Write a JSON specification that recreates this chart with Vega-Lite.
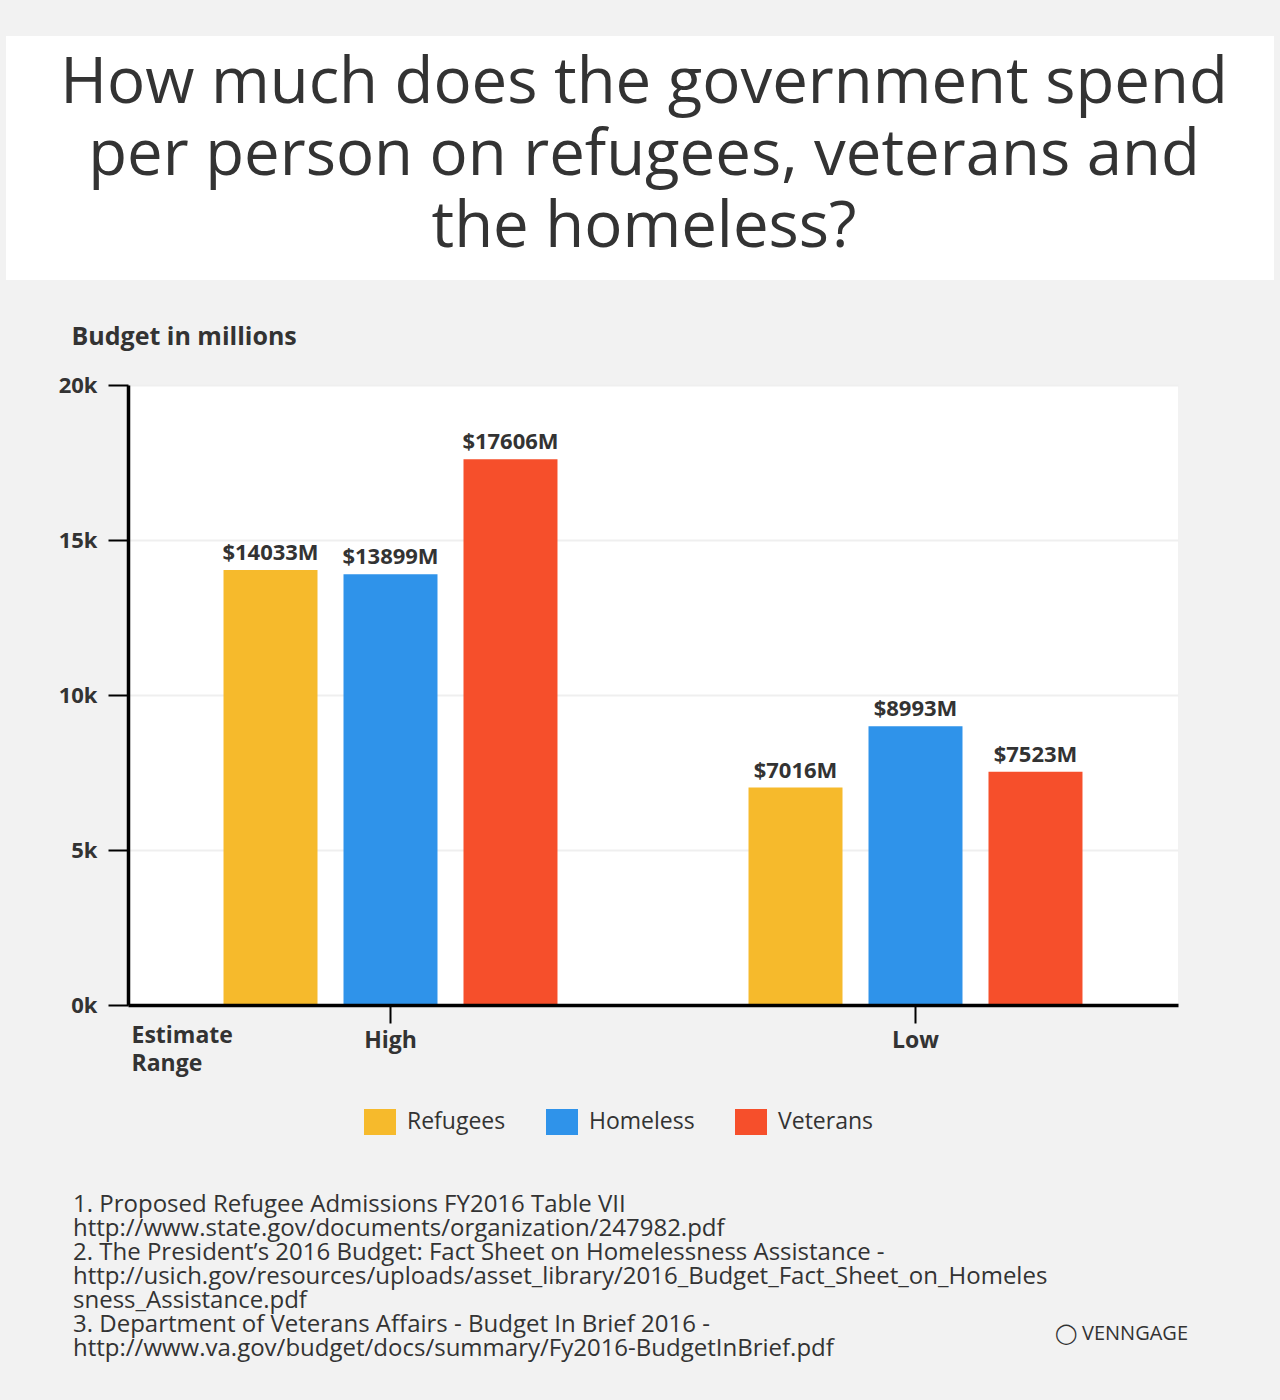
{
  "$schema": "https://vega.github.io/schema/vega-lite/v6.json",
  "background": "#f2f2f2",
  "padding": {"left": 6, "top": 36, "right": 6, "bottom": 46},
  "config": {
    "view": {"stroke": null},
    "font": "Open Sans",
    "locale": {"number": {"decimal": ".", "thousands": ",", "grouping": [3], "currency": ["$", "M"]}}
  },
  "title": {
    "text": "◯  VENNGAGE",
    "orient": "bottom",
    "anchor": "end",
    "dx": -86,
    "offset": -37,
    "font": "Open Sans",
    "fontSize": 20,
    "fontWeight": "normal",
    "color": "#333333"
  },
  "spacing": 44,
  "vconcat": [
    {
      "width": 1268,
      "height": 244,
      "view": {"fill": "white", "stroke": null},
      "data": {"values": [{"heading": "How much does the government spend\nper person on refugees, veterans and\nthe homeless?"}]},
      "mark": {
        "type": "text",
        "font": "Open Sans",
        "fontSize": 63.5,
        "lineHeight": 72,
        "lineBreak": "\n",
        "color": "#333333",
        "align": "center",
        "baseline": "middle",
        "dx": 4,
        "dy": -74
      },
      "encoding": {"text": {"field": "heading", "type": "nominal"}}
    },
    {
      "spacing": 0,
      "hconcat": [
        {
          "width": 52,
          "height": 10,
          "view": {"fill": null, "stroke": null},
          "data": {"values": []},
          "mark": "point"
        },
        {
          "width": 1050,
          "height": 620,
          "view": {"fill": "white", "stroke": null},
          "data": {
            "values": [
              {"range": "High", "group": "Refugees", "value": 14033},
              {"range": "High", "group": "Homeless", "value": 13899},
              {"range": "High", "group": "Veterans", "value": 17606},
              {"range": "Low", "group": "Refugees", "value": 7016},
              {"range": "Low", "group": "Homeless", "value": 8993},
              {"range": "Low", "group": "Veterans", "value": 7523}
            ]
          },
          "title": {
            "text": [
              "1. Proposed Refugee Admissions FY2016 Table VII",
              "http://www.state.gov/documents/organization/247982.pdf",
              "2. The President’s 2016 Budget: Fact Sheet on Homelessness Assistance -",
              "http://usich.gov/resources/uploads/asset_library/2016_Budget_Fact_Sheet_on_Homeles",
              "sness_Assistance.pdf",
              "3. Department of Veterans Affairs - Budget In Brief 2016 -",
              "http://www.va.gov/budget/docs/summary/Fy2016-BudgetInBrief.pdf"
            ],
            "orient": "bottom",
            "anchor": "start",
            "frame": "group",
            "dx": -55,
            "offset": 118,
            "font": "Open Sans",
            "fontSize": 24,
            "fontWeight": "normal",
            "lineHeight": 24,
            "color": "#333333",
            "baseline": "top"
          },
          "encoding": {
            "x": {
              "field": "range",
              "type": "nominal",
              "sort": ["High", "Low"],
              "scale": {"paddingInner": 0, "paddingOuter": 0},
              "axis": {
                "title": ["Estimate", "Range"],
                "titleFont": "Open Sans",
                "titleFontSize": 23,
                "titleFontWeight": "bold",
                "titleColor": "#333333",
                "titleAlign": "left",
                "titleAnchor": "start",
                "titleBaseline": "alphabetic",
                "titleX": 3,
                "titleY": 37,
                "titleLineHeight": 28,
                "labelAngle": 0,
                "labelFont": "Open Sans",
                "labelFontSize": 23,
                "labelFontWeight": "bold",
                "labelColor": "#333333",
                "labelPadding": 6,
                "domainColor": "#000000",
                "domainWidth": 3.5,
                "tickColor": "#000000",
                "tickWidth": 2,
                "tickSize": 18,
                "grid": false,
                "zindex": 1
              }
            },
            "xOffset": {
              "field": "group",
              "type": "nominal",
              "sort": ["Refugees", "Homeless", "Veterans"],
              "scale": {"paddingInner": 0.2167, "paddingOuter": 0.796}
            },
            "y": {
              "field": "value",
              "type": "quantitative",
              "scale": {"domain": [0, 20000]},
              "axis": {
                "values": [0, 5000, 10000, 15000, 20000],
                "labelExpr": "(datum.value / 1000) + 'k'",
                "title": "Budget in millions",
                "titleFont": "Open Sans",
                "titleFontSize": 25,
                "titleFontWeight": "bold",
                "titleColor": "#333333",
                "titleAngle": 0,
                "titleAlign": "left",
                "titleBaseline": "alphabetic",
                "titleX": -57,
                "titleY": -41,
                "labelFont": "Open Sans",
                "labelFontSize": 22,
                "labelFontWeight": "bold",
                "labelColor": "#333333",
                "labelPadding": 11,
                "domainColor": "#000000",
                "domainWidth": 3.5,
                "tickColor": "#000000",
                "tickWidth": 2,
                "tickSize": 20,
                "grid": true,
                "gridColor": "#efefef",
                "gridWidth": 2,
                "zindex": 0
              }
            }
          },
          "layer": [
            {
              "mark": {"type": "bar"},
              "encoding": {
                "color": {
                  "field": "group",
                  "type": "nominal",
                  "scale": {
                    "domain": ["Refugees", "Homeless", "Veterans"],
                    "range": ["#F6BA2C", "#2F93EA", "#F64F2B"]
                  },
                  "legend": {
                    "orient": "none",
                    "legendX": 358,
                    "legendY": 1070,
                    "direction": "horizontal",
                    "title": null,
                    "padding": 0,
                    "symbolType": "M-1,-0.8125H1V0.8125H-1Z",
                    "symbolSize": 1024,
                    "symbolStrokeWidth": 0,
                    "symbolOpacity": 1,
                    "labelFont": "Open Sans",
                    "labelFontSize": 23,
                    "labelColor": "#333333",
                    "labelOffset": 11,
                    "columnPadding": 40
                  }
                }
              }
            },
            {
              "mark": {
                "type": "text",
                "font": "Open Sans",
                "fontSize": 22,
                "fontWeight": "bold",
                "color": "#333333",
                "baseline": "alphabetic",
                "dy": -10
              },
              "encoding": {
                "text": {"field": "value", "type": "quantitative", "format": "$d"}
              }
            }
          ]
        }
      ]
    }
  ]
}
